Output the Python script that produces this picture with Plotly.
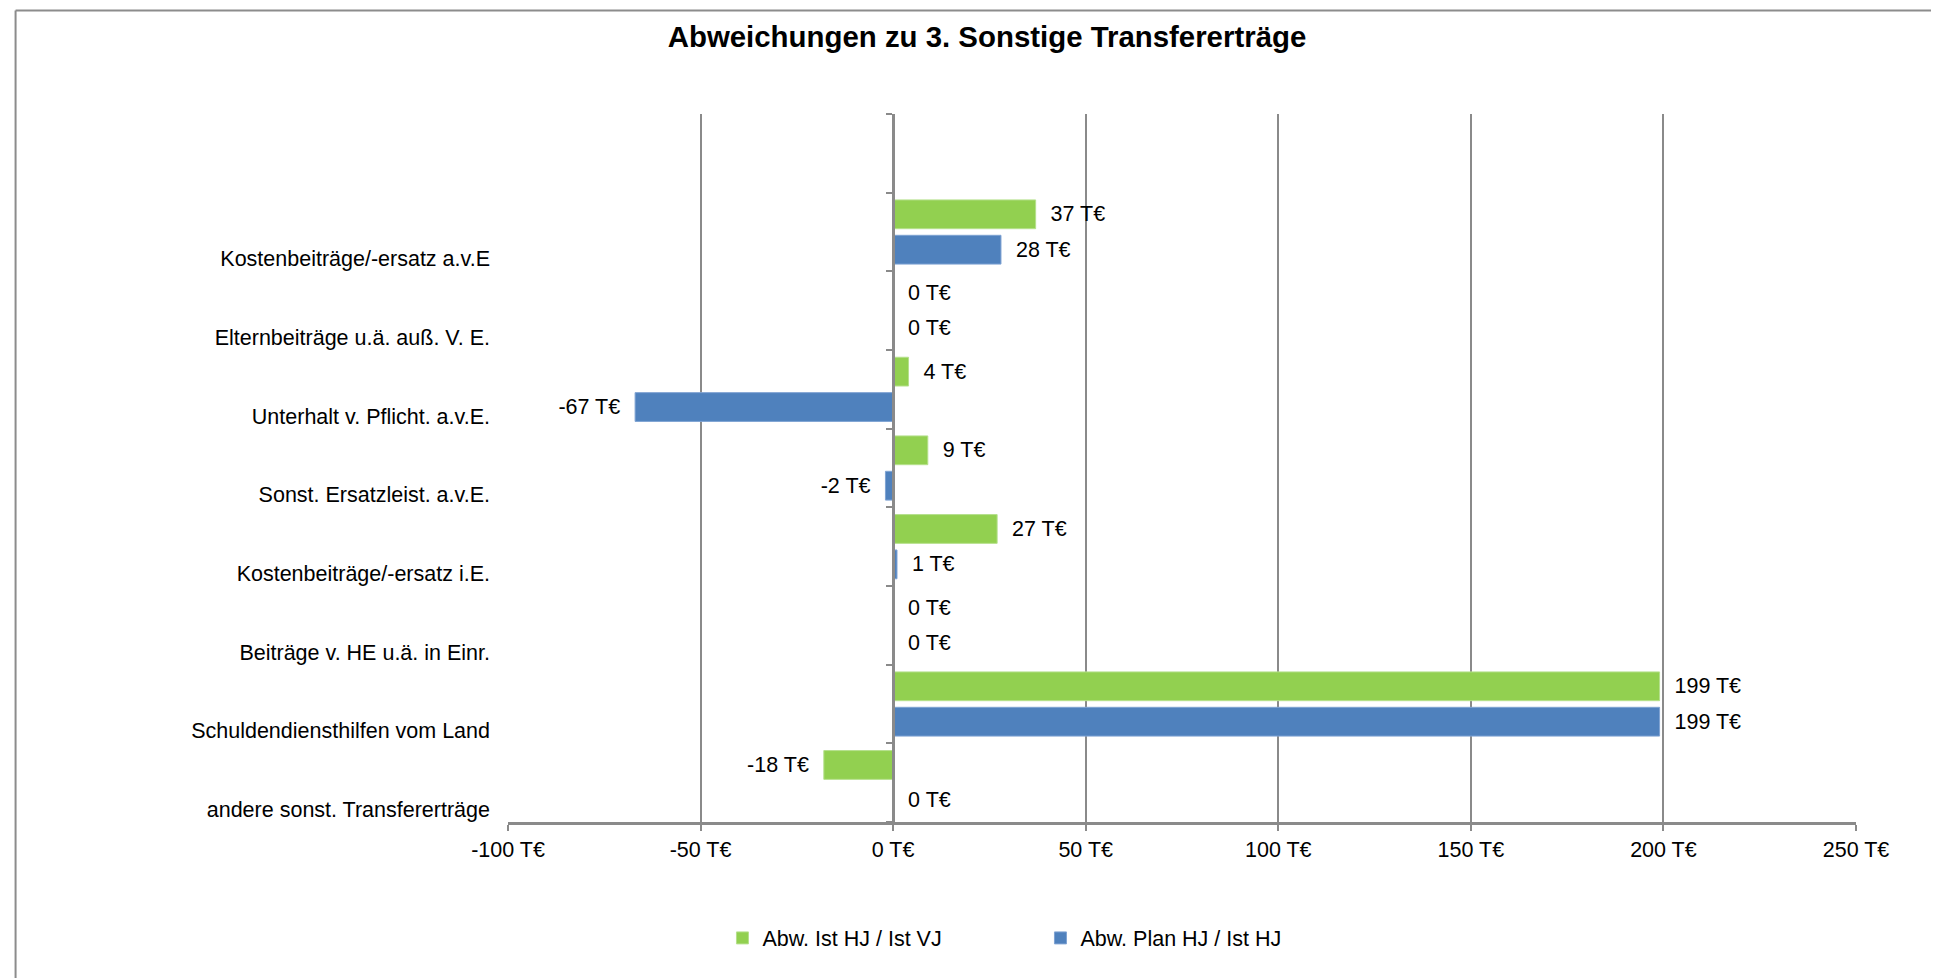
import plotly.graph_objects as go

# ---- data ----
title_text = "Abweichungen zu 3. Sonstige Transfererträge"
categories = [
    "Kostenbeiträge/-ersatz a.v.E",
    "Elternbeiträge u.ä. auß. V. E.",
    "Unterhalt v. Pflicht. a.v.E.",
    "Sonst. Ersatzleist. a.v.E.",
    "Kostenbeiträge/-ersatz i.E.",
    "Beiträge v. HE u.ä. in Einr.",
    "Schuldendiensthilfen vom Land",
    "andere sonst. Transfererträge",
]
ist_hj_vs_ist_vj = [37, 0, 4, 9, 27, 0, 199, -18]
plan_hj_vs_ist_hj = [28, 0, -67, -2, 1, 0, 199, 0]
series_names = ["Abw. Ist HJ / Ist VJ", "Abw. Plan HJ / Ist HJ"]
x_tick_values = [-100, -50, 0, 50, 100, 150, 200, 250]
x_tick_labels = ["-100 T€", "-50 T€", "0 T€", "50 T€", "100 T€", "150 T€", "200 T€", "250 T€"]

GREEN = "#92D050"
BLUE = "#4F81BD"
GRID = "#8a8a8a"
FONT = "Liberation Sans, Arial, sans-serif"
FS = 21.5

n = len(categories)
# top category first -> highest position; one empty band above the first category
positions = [n - 1 - i for i in range(n)]
band_edges = [p - 0.5 for p in range(n + 2)]
label_positions = [p - 0.34 for p in positions]


def labels(vals):
    out = []
    for v in vals:
        if v < 0:
            out.append(f"{v} T€\u00a0\u00a0")
        else:
            out.append(f"\u00a0\u00a0{v} T€")
    return out


fig = go.Figure()
fig.add_trace(go.Bar(
    y=positions, x=plan_hj_vs_ist_hj, orientation="h", name=series_names[1],
    marker=dict(color=BLUE, line=dict(width=1, color="#7fa3d3")),
    text=labels(plan_hj_vs_ist_hj), textposition="outside", constraintext="none",
    textfont=dict(family=FONT, size=FS, color="black"), cliponaxis=False,
    legendrank=2,
))
fig.add_trace(go.Bar(
    y=positions, x=ist_hj_vs_ist_vj, orientation="h", name=series_names[0],
    marker=dict(color=GREEN, line=dict(width=1, color="#b5e08c")),
    text=labels(ist_hj_vs_ist_vj), textposition="outside", constraintext="none",
    textfont=dict(family=FONT, size=FS, color="black"), cliponaxis=False,
    legendrank=1,
))
# helper trace carrying the category axis drawn at x = 0
fig.add_trace(go.Scatter(x=[], y=[], yaxis="y2", showlegend=False, hoverinfo="skip"))

OFF = 8  # page body margin
W, H = 1939 - OFF, 978 - OFF
plot_l, plot_r, plot_t, plot_b = 507.5 - OFF, 1855.7 - OFF, 113.5 - OFF, 822 - OFF
ml, mr, mt, mb = plot_l, W - plot_r, plot_t, H - plot_b
pw, ph = plot_r - plot_l, plot_b - plot_t
xmin, xmax = x_tick_values[0], x_tick_values[-1]
zero_frac = (0 - xmin) / (xmax - xmin)

yrange = [band_edges[0], band_edges[-1]]

frame_x0 = (15 - OFF - plot_l) / pw
frame_x1 = (W + 20 - plot_l) / pw
frame_y1 = (plot_b - (10 - OFF)) / ph
frame_y0 = -(H + 20 - plot_b) / ph

fig.update_layout(
    width=W, height=H,
    margin=dict(l=ml, r=mr, t=mt, b=mb, pad=0),
    paper_bgcolor="white", plot_bgcolor="white",
    font=dict(family=FONT, size=FS, color="black"),
    title=dict(text=f"<b>{title_text}</b>", x=(987 - OFF) / W, xanchor="center",
               y=1 - (37 - OFF) / H, yanchor="middle", yref="container",
               font=dict(family=FONT, size=29.4, color="black")),
    barmode="group", bargap=0.10, bargroupgap=0.187,
    showlegend=True,
    legend=dict(orientation="h", x=(742 - OFF - 20 - plot_l) / pw, xanchor="left",
                y=-(938 - 822) / ph, yanchor="middle",
                font=dict(family=FONT, size=FS, color="black"),
                entrywidth=273, entrywidthmode="pixels", traceorder="normal",
                bgcolor="rgba(0,0,0,0)"),
    xaxis=dict(range=[xmin, xmax], tickvals=x_tick_values, ticktext=x_tick_labels,
               showgrid=True, gridcolor=GRID, gridwidth=2, zeroline=False,
               showline=True, linecolor=GRID, linewidth=2.5,
               ticks="outside", ticklen=6, tickcolor=GRID, tickwidth=2,
               tickfont=dict(family=FONT, size=FS, color="black"), fixedrange=True),
    yaxis=dict(range=yrange, tickvals=label_positions, ticktext=categories,
               showgrid=False, zeroline=False, showline=False, ticks="",
               ticklabelstandoff=17,
               tickfont=dict(family=FONT, size=FS, color="black"), fixedrange=True),
    yaxis2=dict(range=yrange, overlaying="y", anchor="free", position=zero_frac,
                side="left", showgrid=False, zeroline=False, showline=True,
                linecolor=GRID, linewidth=2.5, ticks="outside", ticklen=6,
                tickcolor=GRID, tickwidth=2, tickvals=band_edges,
                showticklabels=False, fixedrange=True),
    shapes=[
        dict(type="line", xref="paper", yref="paper",
             x0=frame_x0, x1=frame_x0, y0=frame_y0, y1=frame_y1,
             line=dict(color="#8c8c8c", width=2), layer="below"),
        dict(type="line", xref="paper", yref="paper",
             x0=frame_x0, x1=frame_x1, y0=frame_y1, y1=frame_y1,
             line=dict(color="#8c8c8c", width=2), layer="below"),
    ],
)

fig.write_html("out.html", config={"displayModeBar": False})
